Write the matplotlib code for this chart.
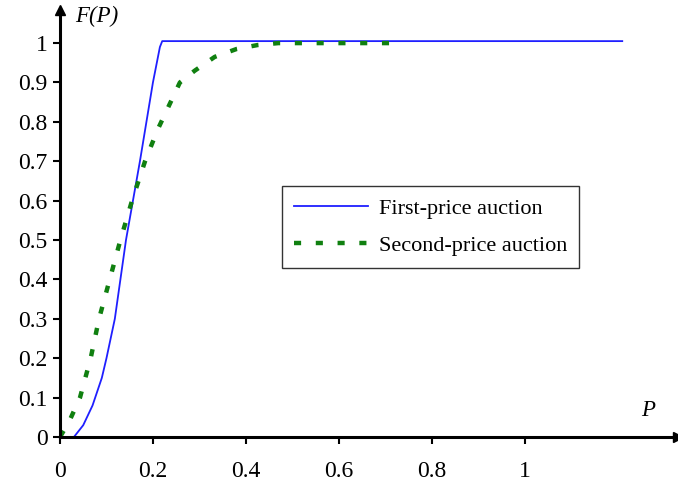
import numpy as np
import matplotlib.pyplot as plt
from matplotlib.ticker import FuncFormatter

# values
p_first = [0.0, 0.03, 0.05, 0.07, 0.09, 0.10, 0.118, 0.13, 0.142, 0.157, 0.172, 0.186, 0.20, 0.215, 0.22, 1.21]
f_first = [0.0, 0.0, 0.03, 0.08, 0.15, 0.20, 0.30, 0.40, 0.50, 0.60, 0.70, 0.80, 0.90, 0.99, 1.005, 1.005]

p_second = [0.0, 0.02, 0.043, 0.066, 0.084, 0.107, 0.13, 0.155, 0.183, 0.21, 0.232, 0.258, 0.29, 0.333, 0.38, 0.425, 0.47, 0.714]
f_second = [0.0, 0.04, 0.10, 0.20, 0.30, 0.40, 0.50, 0.60, 0.70, 0.78, 0.835, 0.90, 0.93, 0.965, 0.985, 0.995, 1.0, 1.0]

x_ticks = [0, 0.2, 0.4, 0.6, 0.8, 1]
y_ticks = [0, 0.1, 0.2, 0.3, 0.4, 0.5, 0.6, 0.7, 0.8, 0.9, 1]

SERIF = 'Liberation Serif'

fig = plt.figure(figsize=(6.78, 4.87), dpi=100)
ax = fig.add_axes([60/678, 50/487, 618/678, 427/487])

ax.plot(p_first, f_first, color='#1f1fff', linewidth=1.3, label='First-price auction')
ax.plot(p_second, f_second, color='#108010', linewidth=3.2, linestyle=(0, (1.6, 3.3)),
        label='Second-price auction')

ax.set_xlim(0, 1.33)
ax.set_ylim(0, 1.084)

for s in ['top', 'right']:
    ax.spines[s].set_visible(False)
for s in ['left', 'bottom']:
    ax.spines[s].set_linewidth(2.2)

# arrow heads on the axes
ax.plot(1, 0, '>k', markersize=7, transform=ax.transAxes, clip_on=False)
ax.plot(0, 1, '^k', markersize=7, transform=ax.transAxes, clip_on=False)

fmt = FuncFormatter(lambda v, pos: ('%g' % round(v, 2)))
ax.set_xticks(x_ticks)
ax.set_yticks(y_ticks)
ax.xaxis.set_major_formatter(fmt)
ax.yaxis.set_major_formatter(fmt)
ax.tick_params(direction='out', length=5, width=1.5, labelsize=17)
ax.tick_params(axis='y', pad=4)
ax.tick_params(axis='x', pad=12)
for lab in ax.get_xticklabels() + ax.get_yticklabels():
    lab.set_family(SERIF)

ax.text(0.032, 1.04, 'F(P)', fontsize=16.5, fontstyle='italic', family=SERIF,
        va='bottom', ha='left')
ax.text(1.265, 0.04, 'P', fontsize=16.5, fontstyle='italic', family=SERIF,
        va='bottom', ha='center')

leg = ax.legend(loc='upper left', bbox_to_anchor=(222/618, (437-186)/427),
                prop={'family': SERIF, 'size': 16}, frameon=True, fancybox=False,
                edgecolor='black', handlelength=3.3, borderpad=0.55,
                labelspacing=0.75, handletextpad=0.5, borderaxespad=0)
leg.get_frame().set_linewidth(1.0)

fig.savefig('out.png', dpi=100)
